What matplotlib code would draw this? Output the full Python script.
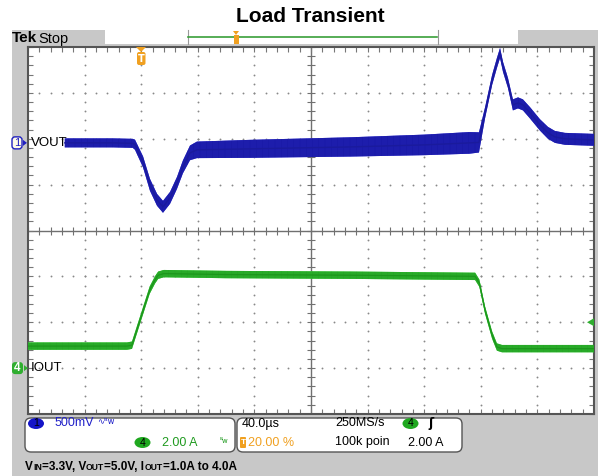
import numpy as np
import matplotlib.pyplot as plt
from matplotlib.patches import Rectangle, FancyBboxPatch, Ellipse, Polygon

# figure size in pixels
W, H = 598, 476

# VOUT (ch1, 500 mV/div): time in us, deviation in mV, ripple half-width in mV
t_vout = [-54, -20, -6, -4.4, 1.3, 6.2, 11.2, 15.4, 20.4, 25.3, 29.5, 34.5, 39.4,
          77, 148, 200, 232, 238.7, 243, 248, 251.4, 253.6, 255.7, 259.2, 262.7,
          266.3, 269.8, 274.8, 281.8, 287.5, 292.4, 299.5, 320]
vout_mv = [0, 0, -5, -20, -207, -457, -621, -697, -599, -436, -261, -109, -76,
           -65, -44, -22, 0, 5, 327, 686, 871, 980, 828, 653, 414,
           436, 414, 327, 196, 109, 65, 44, 33]
vout_rip = [49, 49, 49, 55, 60, 65, 65, 65, 65, 65, 70, 80, 90,
            98, 105, 112, 118, 110, 60, 55, 55, 55, 55, 55, 60,
            60, 60, 62, 62, 65, 65, 65, 65]

# IOUT (ch4, 2 A/div): time in us, current in A
t_iout = [-80, -10, -6.5, 1.3, 6.0, 9.8, 12, 16, 60, 150, 236, 239, 243, 248,
          251.4, 255, 320]
iout_a = [0.96, 0.96, 1.0, 2.5, 3.4, 3.85, 4.05, 4.12, 4.08, 4.05, 4.0, 3.7,
          2.53, 1.44, 0.92, 0.85, 0.85]
iout_rip = 0.16

# scope settings
ch1_pos = 1.91      # divisions
ch4_pos = -3.0      # divisions
ch1_scale = 500.0   # mV/div
ch4_scale = 2.0     # A/div
trig_level = 2.0    # A

plt.rcParams['hatch.linewidth'] = 0.8
sans = ['Liberation Sans', 'DejaVu Sans']

fig = plt.figure(figsize=(W / 100, H / 100), dpi=100)


def fx(px):
    return px / W


def fy(py):
    return 1 - py / H


def rect(x0, y0, x1, y1, **kw):
    r = Rectangle((fx(x0), fy(y1)), (x1 - x0) / W, (y1 - y0) / H,
                  transform=fig.transFigure, **kw)
    fig.add_artist(r)
    return r


def rbox(x0, y0, x1, y1, pad=4, **kw):
    r = FancyBboxPatch((x0, H - y1), x1 - x0, y1 - y0,
                       boxstyle='round,pad=0,rounding_size=%d' % pad,
                       transform=None, **kw)
    fig.add_artist(r)
    return r


# backgrounds
rect(12, 30, W, H, facecolor='#c8c8c8', edgecolor='none', zorder=0)
rect(105, 30, 518, 44, facecolor='white', edgecolor='none', zorder=1)
fig.add_artist(plt.Line2D([fx(187.5), fx(187.5)], [fy(30), fy(44)], color='#999999',
                          lw=0.8, transform=fig.transFigure))
fig.add_artist(plt.Line2D([fx(437.5), fx(437.5)], [fy(30), fy(44)], color='#999999',
                          lw=0.8, transform=fig.transFigure))
fig.add_artist(plt.Line2D([fx(188), fx(437)], [fy(37), fy(37)], color='#3aa03a',
                          lw=1.2, transform=fig.transFigure))
fig.add_artist(Polygon([(233, H - 31), (239, H - 31), (236, H - 35)], closed=True,
                       transform=None, facecolor='#f0a020', edgecolor='none'))
rect(233.5, 35, 238.5, 44, facecolor='#f0a020', edgecolor='none', zorder=2)

fig.text(fx(310), fy(17), 'Load Transient', ha='center', va='center', fontsize=15,
         fontweight='bold', family=sans)
fig.text(fx(12), fy(38.5), 'Tek', ha='left', va='center', fontsize=11,
         fontweight='bold', family=sans)
fig.text(fx(38), fy(38.5), 'Stop', ha='left', va='center', fontsize=10.5,
         family=sans)

# scope graticule
ax = fig.add_axes([fx(28), fy(414), (594 - 28) / W, (414 - 47) / H])
ax.set_facecolor('white')
ax.set_xlim(-80, 320)
ax.set_ylim(-4, 4)
for s in ax.spines.values():
    s.set_color('#555555')
    s.set_linewidth(1.5)
ax.set_xticks(np.arange(-80, 321, 8))
ax.set_yticks(np.arange(-4, 4.01, 0.2))
ax.tick_params(direction='in', length=3.5, width=0.8, color='#777777',
               top=True, right=True, labelbottom=False, labelleft=False)

xs_min = np.arange(-80, 321, 8)
ys_min = np.arange(-4, 4.01, 0.2)
for xm in np.arange(-40, 320, 40):
    if xm != 120:
        ax.scatter(np.full(len(ys_min), xm), ys_min, s=1.8, color='#888888',
                   linewidths=0, zorder=1)
for ym in np.arange(-3, 4, 1):
    if ym != 0:
        ax.scatter(xs_min, np.full(len(xs_min), ym), s=1.8, color='#888888',
                   linewidths=0, zorder=1)
ax.axhline(0, color='#707070', lw=1.0, zorder=1)
ax.axvline(120, color='#707070', lw=1.0, zorder=1)
ax.plot(xs_min, np.zeros(len(xs_min)), linestyle='none', marker='|', ms=6,
        mew=0.8, color='#707070', zorder=1)
ax.plot(np.full(len(ys_min), 120), ys_min, linestyle='none', marker='_', ms=6,
        mew=0.8, color='#707070', zorder=1)

# traces: band of ripple drawn with vertical hatching, mean line on top
tv = np.array(t_vout)
yv = ch1_pos + np.array(vout_mv) / ch1_scale
rv = np.array(vout_rip) / ch1_scale
ax.fill_between(tv, yv - rv, yv + rv, facecolor='#4646e4', edgecolor='#1a1aa8',
                hatch='|' * 14, linewidth=0, zorder=3)
ax.plot(tv, yv, color='#1a1a9c', lw=1.0, zorder=4)

ti = np.array(t_iout)
yi = ch4_pos + np.array(iout_a) / ch4_scale
ri = iout_rip / ch4_scale
ax.fill_between(ti, yi - ri, yi + ri, facecolor='#4ade4a', edgecolor='#26a626',
                hatch='|' * 14, linewidth=0, zorder=3)
ax.plot(ti, yi, color='#1c961c', lw=0.9, zorder=4)

# trigger markers
fig.add_artist(Polygon([(136, H - 47), (146, H - 47), (141, H - 52)], closed=True,
                       transform=None, facecolor='#f0a020', edgecolor='none', zorder=5))
rbox(137, 52, 145.5, 65, pad=2, facecolor='#f0a020', edgecolor='none', zorder=5)
fig.text(fx(141.2), fy(58.5), 'T', ha='center', va='center', fontsize=7,
         color='white', fontweight='bold', zorder=6)
yt = 414 - (ch4_pos + trig_level / ch4_scale + 4) / 8 * (414 - 47)
fig.add_artist(Polygon([(587, H - yt), (594, H - yt + 4), (594, H - yt - 4)],
                       closed=True, transform=None, facecolor='#2fae2f',
                       edgecolor='none', zorder=5))

# channel labels
y1 = 414 - (ch1_pos + 4) / 8 * (414 - 47)
y4 = 414 - (ch4_pos + 4) / 8 * (414 - 47)
rbox(12, y1 - 6, 22, y1 + 6, pad=3, facecolor='#fffbe8', edgecolor='#2020c0',
     linewidth=1, zorder=5)
fig.text(fx(17), fy(y1), '1', ha='center', va='center', fontsize=8,
         color='#2020c0', family=sans, zorder=6)
fig.add_artist(Polygon([(23, H - y1 + 3), (23, H - y1 - 3), (27, H - y1)],
                       closed=True, transform=None, facecolor='#2020c0',
                       edgecolor='none', zorder=6))
fig.text(fx(31), fy(y1), 'VOUT', ha='left', va='center', fontsize=9.5,
         family=sans, zorder=6)
rbox(12, y4 - 6, 23, y4 + 6, pad=3, facecolor='#2fae2f', edgecolor='none', zorder=5)
fig.text(fx(17.5), fy(y4), '4', ha='center', va='center', fontsize=8.5,
         color='white', fontweight='bold', family=sans, zorder=6)
fig.add_artist(Polygon([(24, H - y4 + 3), (24, H - y4 - 3), (28, H - y4)],
                       closed=True, transform=None, facecolor='#2fae2f',
                       edgecolor='none', zorder=6))
fig.text(fx(31), fy(y4), 'IOUT', ha='left', va='center', fontsize=9.5,
         family=sans, zorder=6)

# readout panels
rbox(25, 418, 235, 452, pad=6, facecolor='white', edgecolor='#555555', linewidth=1)
rbox(237, 418, 462, 452, pad=6, facecolor='white', edgecolor='#555555', linewidth=1)
fig.add_artist(Ellipse((36, H - 423.5), 16, 11, transform=None, facecolor='#1414c8',
                       edgecolor='none'))
fig.text(fx(36), fy(423.5), '1', ha='center', va='center', fontsize=7.5,
         color='black', family=sans)
fig.text(fx(55), fy(423.5), '500mV', ha='left', va='center', fontsize=9,
         color='#2020c8', family=sans)
fig.text(fx(97), fy(422), '∿ᴮw', ha='left', va='center', fontsize=6,
         color='#2020c8')
fig.add_artist(Ellipse((142.5, H - 442.5), 16, 11, transform=None, facecolor='#1fa81f',
                       edgecolor='none'))
fig.text(fx(142.5), fy(442.5), '4', ha='center', va='center', fontsize=7.5,
         color='black', family=sans)
fig.text(fx(162), fy(442.5), '2.00 A', ha='left', va='center', fontsize=9,
         color='#1f9a1f', family=sans)
fig.text(fx(220), fy(441), 'ᴮw', ha='left', va='center', fontsize=5,
         color='#1f9a1f')

fig.text(fx(242), fy(423.5), '40.0µs', ha='left', va='center', fontsize=9,
         color='black', family=sans)
rbox(240, 437, 246, 448, pad=1, facecolor='#f0a020', edgecolor='none')
fig.text(fx(243), fy(442.5), 'T', ha='center', va='center', fontsize=6,
         color='white', fontweight='bold', family=sans)
fig.text(fx(248), fy(442.5), '20.00 %', ha='left', va='center', fontsize=9,
         color='#f0a020', family=sans)
fig.text(fx(335), fy(423.5), '250MS/s', ha='left', va='center', fontsize=9,
         color='black', family=sans)
fig.text(fx(335), fy(442.5), '100k poin', ha='left', va='center', fontsize=9,
         color='black', family=sans)
fig.add_artist(Ellipse((410.5, H - 423.5), 16, 11, transform=None, facecolor='#1fa81f',
                       edgecolor='none'))
fig.text(fx(410.5), fy(423.5), '4', ha='center', va='center', fontsize=7.5,
         color='black', family=sans)
fig.text(fx(428), fy(423.5), 'ʃ', ha='left', va='center', fontsize=9,
         color='black', fontweight='bold')
fig.text(fx(408), fy(442.5), '2.00 A', ha='left', va='center', fontsize=9,
         color='black', family=sans)

# caption with small-caps subscripts
cap_parts = [('V', 8.5), ('IN', 6.2), ('=3.3V, V', 8.5), ('OUT', 6.2),
             ('=5.0V, I', 8.5), ('OUT', 6.2), ('=1.0A to 4.0A', 8.5)]
renderer = fig.canvas.get_renderer()
xc = 25
for s, size in cap_parts:
    t = fig.text(fx(xc), fy(470), s, ha='left', va='baseline', fontsize=size,
                 fontweight='bold', family=sans)
    xc = t.get_window_extent(renderer).x1

fig.savefig('out.png', dpi=100)
